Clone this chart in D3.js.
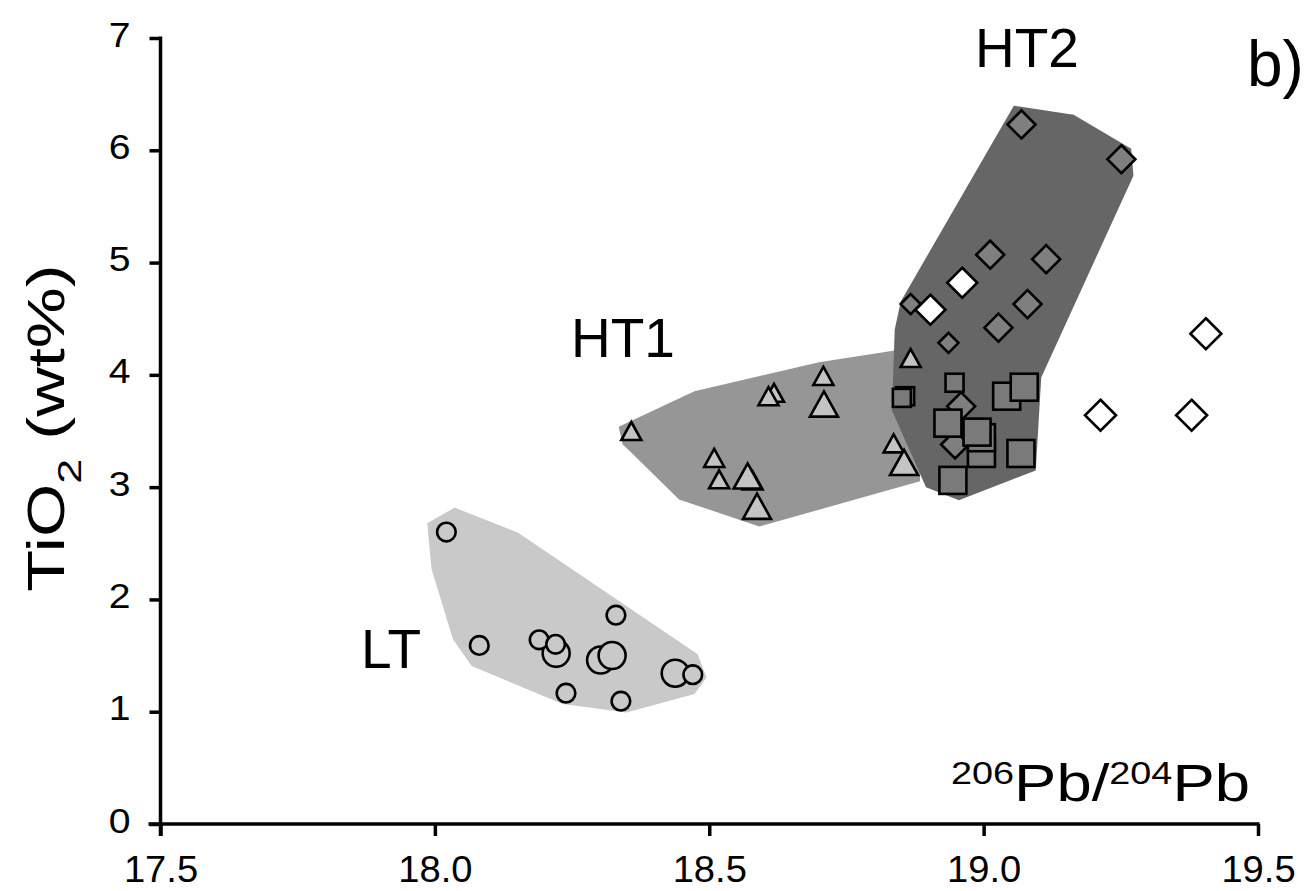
<!DOCTYPE html>
<html>
<head>
<meta charset="utf-8">
<script src="https://cdn.jsdelivr.net/npm/d3@7/dist/d3.min.js"></script>
<style>
  html, body { margin: 0; padding: 0; background: #fff; }
  svg { display: block; }
  text { font-family: "Liberation Sans", Arial, Helvetica, sans-serif; fill: #000; }
</style>
</head>
<body>
<svg id="chart" width="1312" height="891"></svg>
<script>
// ---------- data ----------
const xTicks = [17.5, 18.0, 18.5, 19.0, 19.5];
const yTicks = [0, 1, 2, 3, 4, 5, 6, 7];

// field polygons (206Pb/204Pb, TiO2)
const ltField = [[17.986,2.678],[18.036,2.818],[18.151,2.595],[18.479,1.512],[18.495,1.305],[18.473,1.157],[18.349,0.994],[18.233,1.068],[18.067,1.408],[18.033,1.646],[17.994,2.269]];
const ht1Field = [[18.335,3.538],[18.473,3.855],[18.700,4.113],[18.885,4.253],[18.884,3.052],[18.591,2.649],[18.445,2.891],[18.361,3.292],[18.342,3.381]];
const ht2Field = [[19.055,6.397],[19.164,6.317],[19.269,6.014],[19.273,5.774],[19.105,3.977],[19.095,3.149],[18.955,2.883],[18.895,2.998],[18.833,3.683],[18.838,4.404],[18.849,4.653]];

// LT circles
const ltLargeX = [18.221, 18.302, 18.323, 18.438];
const ltLargeY = [1.52, 1.46, 1.50, 1.343];
const ltSmallX = [18.021, 18.081, 18.190, 18.220, 18.330, 18.239, 18.339, 18.470];
const ltSmallY = [2.60, 1.59, 1.64, 1.60, 1.86, 1.165, 1.094, 1.33];

// HT1 triangles
const ht1LargeX = [18.570, 18.709, 18.855, 18.587];
const ht1LargeY = [3.10, 3.74, 3.22, 2.83];
const ht1SmallX = [18.358, 18.509, 18.518, 18.579, 18.618, 18.608, 18.708, 18.867, 18.836];
const ht1SmallY = [3.50, 3.26, 3.07, 3.06, 3.84, 3.81, 3.99, 4.15, 3.39];

// HT2 diamonds
const ht2DiamondX = [19.069, 19.251, 19.012, 19.114, 19.080, 19.027, 18.959, 18.948];
const ht2DiamondY = [6.23, 5.92, 5.07, 5.03, 4.63, 4.42, 3.72, 3.38];
const ht2SmallDiamondX = [18.867, 18.936];
const ht2SmallDiamondY = [4.63, 4.285];
const ht2WhiteDiamondX = [18.961, 18.903];
const ht2WhiteDiamondY = [4.82, 4.58];
const openDiamondX = [19.405, 19.213, 19.379];
const openDiamondY = [4.366, 3.64, 3.64];

// HT2 squares
const ht2SmallSquareX = [18.947, 18.857, 18.851];
const ht2SmallSquareY = [3.93, 3.81, 3.795];
const ht2LargeSquareX = [18.996, 18.996, 19.042, 19.074, 18.935, 18.988, 19.068, 18.944];
const ht2LargeSquareY = [3.30, 3.44, 3.81, 3.89, 3.57, 3.49, 3.30, 3.06];

// ---------- layout ----------
const svg = d3.select("#chart");
const x = d3.scaleLinear().domain([17.5, 19.5]).range([160.5, 1258]);
const y = d3.scaleLinear().domain([0, 7]).range([824, 38]);

const zip = (a, b) => a.map((v, i) => [v, b[i]]);
const line = d3.line().x(d => x(d[0])).y(d => y(d[1])).curve(d3.curveLinearClosed);

// fields
svg.append("path").attr("d", line(ltField)).attr("fill", "#c9c9c9");
svg.append("path").attr("d", line(ht1Field)).attr("fill", "#969696");
svg.append("path").attr("d", line(ht2Field)).attr("fill", "#666666");

const sw = 2.6;

// circles
function circles(xs, ys, r) {
  svg.append("g").selectAll("circle").data(zip(xs, ys)).join("circle")
    .attr("cx", d => x(d[0])).attr("cy", d => y(d[1])).attr("r", r)
    .attr("fill", "#c9c9c9").attr("stroke", "#000").attr("stroke-width", sw);
}
circles(ltLargeX, ltLargeY, 13.5);
circles(ltSmallX, ltSmallY, 9.3);

// triangles
function triangles(xs, ys, w) {
  const h = w * 0.9;
  svg.append("g").selectAll("path").data(zip(xs, ys)).join("path")
    .attr("d", d => {
      const cx = x(d[0]), cy = y(d[1]);
      return `M${cx},${cy - h / 2}L${cx + w / 2},${cy + h / 2}L${cx - w / 2},${cy + h / 2}Z`;
    })
    .attr("fill", "#c4c4c4").attr("stroke", "#000").attr("stroke-width", sw).attr("stroke-linejoin", "miter");
}
triangles(ht1SmallX, ht1SmallY, 20);
triangles(ht1LargeX, ht1LargeY, 28);

// diamonds
function diamonds(xs, ys, hd, fill) {
  svg.append("g").selectAll("path").data(zip(xs, ys)).join("path")
    .attr("d", d => {
      const cx = x(d[0]), cy = y(d[1]);
      return `M${cx},${cy - hd}L${cx + hd},${cy}L${cx},${cy + hd}L${cx - hd},${cy}Z`;
    })
    .attr("fill", fill).attr("stroke", "#000").attr("stroke-width", sw);
}
diamonds(ht2SmallDiamondX, ht2SmallDiamondY, 10, "#7f7f7f");
diamonds(ht2DiamondX, ht2DiamondY, 14, "#7f7f7f");
diamonds(ht2WhiteDiamondX, ht2WhiteDiamondY, 15, "#ffffff");
diamonds(openDiamondX, openDiamondY, 15.5, "#ffffff");

// squares
function squares(xs, ys, s) {
  svg.append("g").selectAll("rect").data(zip(xs, ys)).join("rect")
    .attr("x", d => x(d[0]) - s / 2).attr("y", d => y(d[1]) - s / 2)
    .attr("width", s).attr("height", s)
    .attr("fill", "#7a7a7a").attr("stroke", "#000").attr("stroke-width", sw);
}
squares(ht2SmallSquareX, ht2SmallSquareY, 18);
squares(ht2LargeSquareX, ht2LargeSquareY, 27);

// ---------- axes (drawn by d3 axis generators) ----------
const xAxisGen = d3.axisBottom(x).tickValues(xTicks).tickSize(12).tickSizeOuter(0).tickFormat(d3.format(".1f"));
const yAxisGen = d3.axisLeft(y).tickValues(yTicks).tickSize(11).tickSizeOuter(0).tickFormat(d3.format("d"));

const xAxis = svg.append("g").attr("class", "xaxis").attr("transform", `translate(0,${y(0)})`).call(xAxisGen);
const yAxis = svg.append("g").attr("class", "yaxis").attr("transform", `translate(${x(17.5)},0)`).call(yAxisGen);

[xAxis, yAxis].forEach(g => {
  g.attr("font-family", "Liberation Sans, Arial, sans-serif");
  g.select(".domain").attr("stroke", "#000").attr("stroke-width", 3.5);
  g.selectAll(".tick line").attr("stroke", "#000").attr("stroke-width", 3.5);
});
xAxis.attr("font-size", 36);
yAxis.attr("font-size", 35);
xAxis.select(".domain").attr("d", `M${x(17.5) - 12},0H${x(19.5) + 1.5}`);
yAxis.select(".domain").attr("d", `M0,${y(0) + 12}V${y(7) - 1.5}`);

xAxis.selectAll(".tick text").attr("font-size", 36).attr("y", 32).attr("dy", "0.71em")
  .attr("transform", "scale(1.06,1)");
const ySx = 1.12;
yAxis.selectAll(".tick text").attr("font-size", 35).attr("x", -30 / ySx).attr("dy", 8)
  .attr("transform", `scale(${ySx},1)`);

// ---------- titles ----------
const yt = svg.append("text")
  .attr("transform", "translate(64,428) rotate(-90) scale(1.32,1)")
  .attr("text-anchor", "middle").style("font-size", "52px");
yt.append("tspan").text("TiO");
yt.append("tspan").text("2").style("font-size", "34px").attr("dy", 17);
yt.append("tspan").text(" (wt%)").attr("dy", -17);

const xt = svg.append("text")
  .attr("transform", "translate(1250,801) scale(1.22,1)")
  .attr("text-anchor", "end").style("font-size", "52px");
xt.append("tspan").text("206").style("font-size", "31px").attr("dy", -17);
xt.append("tspan").text("Pb/").attr("dy", 17);
xt.append("tspan").text("204").style("font-size", "31px").attr("dy", -17);
xt.append("tspan").text("Pb").attr("dy", 17);

// field labels
svg.append("text").attr("x", 975).attr("y", 67).style("font-size", "55px").text("HT2");
svg.append("text").attr("x", 571).attr("y", 357).style("font-size", "55px").text("HT1");
svg.append("text").attr("x", 361).attr("y", 668).style("font-size", "55px").text("LT");
svg.append("text").attr("x", 1247).attr("y", 86).style("font-size", "64px").text("b)");
</script>
</body>
</html>
